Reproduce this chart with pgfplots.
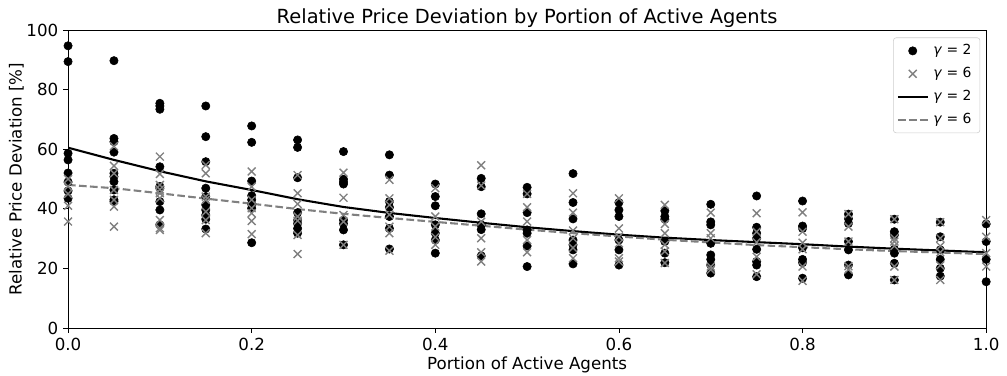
\documentclass[border=0pt]{standalone}
\usepackage{fontspec}
\setmainfont{DejaVu Sans}
\usepackage{pgfplots}
\pgfplotsset{compat=1.18}
\usepackage{pgfplotstable}

\pgfplotsset{
  lineleg/.style={legend image code/.code={\draw[##1] (0cm,0cm) -- (0.75cm,0cm);}},
  markleg/.style={legend image code/.code={\draw[mark repeat=2,mark phase=2,##1] plot coordinates {(0cm,0cm)(0.375cm,0cm)(0.75cm,0cm)};}},
}

\pgfplotstableread{
x y
0.00 94.7
0.00 89.4
0.00 58.6
0.00 56.4
0.00 52.0
0.00 49.0
0.00 46.0
0.00 43.5
0.05 89.7
0.05 63.6
0.05 62.5
0.05 59.0
0.05 51.9
0.05 50.8
0.05 49.1
0.05 46.3
0.05 43.0
0.05 42.4
0.10 75.4
0.10 74.5
0.10 73.4
0.10 54.1
0.10 47.5
0.10 46.9
0.10 42.4
0.10 39.6
0.10 34.6
0.15 74.5
0.15 64.2
0.15 55.8
0.15 46.9
0.15 44.1
0.15 41.3
0.15 39.6
0.15 37.9
0.15 36.5
0.15 33.2
0.20 67.8
0.20 62.3
0.20 49.3
0.20 44.4
0.20 43.0
0.20 41.5
0.20 40.2
0.20 28.6
0.25 63.1
0.25 60.6
0.25 50.4
0.25 38.7
0.25 36.2
0.25 35.0
0.25 33.4
0.25 31.8
0.30 59.2
0.30 49.9
0.30 49.0
0.30 48.3
0.30 36.2
0.30 35.0
0.30 32.9
0.30 27.9
0.35 58.1
0.35 51.3
0.35 42.4
0.35 40.5
0.35 37.4
0.35 33.4
0.35 26.5
0.40 48.3
0.40 44.1
0.40 41.0
0.40 34.6
0.40 31.8
0.40 29.5
0.40 25.1
0.45 50.2
0.45 47.4
0.45 38.3
0.45 34.6
0.45 33.0
0.45 24.2
0.50 47.2
0.50 45.0
0.50 38.7
0.50 32.9
0.50 31.8
0.50 27.5
0.50 20.6
0.55 51.8
0.55 42.1
0.55 36.6
0.55 29.5
0.55 27.9
0.55 26.2
0.55 21.5
0.60 42.1
0.60 39.6
0.60 37.4
0.60 29.5
0.60 26.2
0.60 21.1
0.65 39.3
0.65 37.4
0.65 36.5
0.65 29.0
0.65 25.1
0.65 21.9
0.70 41.5
0.70 35.6
0.70 34.6
0.70 28.4
0.70 24.5
0.70 23.0
0.70 21.1
0.70 18.4
0.75 44.3
0.75 33.8
0.75 31.8
0.75 30.1
0.75 26.4
0.75 22.3
0.75 21.1
0.75 17.2
0.80 42.6
0.80 34.2
0.80 33.4
0.80 26.9
0.80 23.0
0.80 21.9
0.80 16.7
0.85 38.2
0.85 36.7
0.85 35.1
0.85 29.0
0.85 26.2
0.85 21.1
0.85 17.8
0.90 36.5
0.90 32.3
0.90 31.2
0.90 26.4
0.90 25.1
0.90 21.7
0.90 16.1
0.95 35.5
0.95 30.6
0.95 26.2
0.95 23.0
0.95 20.0
0.95 17.4
1.00 34.9
1.00 29.0
1.00 23.0
1.00 15.5
}\gtwo

\pgfplotstableread{
x y
0.00 50.0
0.00 47.5
0.00 45.0
0.00 41.0
0.00 35.7
0.05 61.0
0.05 54.4
0.05 51.9
0.05 46.3
0.05 43.0
0.05 40.7
0.05 34.0
0.10 57.5
0.10 51.7
0.10 48.0
0.10 46.5
0.10 45.2
0.10 43.5
0.10 36.2
0.10 33.5
0.10 32.9
0.15 54.7
0.15 51.9
0.15 44.1
0.15 43.0
0.15 39.0
0.15 36.2
0.15 31.8
0.20 52.5
0.20 47.4
0.20 43.0
0.20 40.2
0.20 38.5
0.20 35.9
0.20 31.5
0.25 51.3
0.25 45.2
0.25 41.6
0.25 37.4
0.25 36.0
0.25 31.2
0.25 24.8
0.30 52.1
0.30 43.7
0.30 37.9
0.30 35.7
0.30 27.9
0.35 49.7
0.35 43.5
0.35 41.3
0.35 38.0
0.35 34.0
0.35 31.8
0.35 25.9
0.40 46.9
0.40 37.4
0.40 34.0
0.40 30.5
0.40 27.9
0.45 54.6
0.45 47.8
0.45 35.7
0.45 30.1
0.45 25.4
0.45 22.3
0.50 45.0
0.50 40.5
0.50 35.7
0.50 29.5
0.50 25.4
0.55 45.2
0.55 38.7
0.55 32.7
0.55 30.1
0.55 26.9
0.55 23.4
0.60 43.5
0.60 33.4
0.60 30.6
0.60 28.4
0.60 23.4
0.60 22.3
0.65 41.3
0.65 34.9
0.65 31.8
0.65 27.9
0.65 25.7
0.65 21.8
0.70 38.7
0.70 31.8
0.70 30.1
0.70 20.6
0.70 19.6
0.75 38.5
0.75 32.3
0.75 28.8
0.75 23.9
0.75 18.0
0.80 38.8
0.80 32.3
0.80 28.6
0.80 26.4
0.80 20.6
0.80 15.8
0.85 38.2
0.85 34.0
0.85 29.0
0.85 20.7
0.85 19.6
0.90 36.5
0.90 30.1
0.90 29.0
0.90 27.5
0.90 20.6
0.90 16.1
0.95 35.5
0.95 30.1
0.95 27.5
0.95 25.4
0.95 21.0
0.95 16.1
1.00 36.2
1.00 30.6
1.00 25.1
1.00 20.6
}\gsix

\pgfplotstableread{
x y
0.00 60.5
0.05 56.4
0.10 52.6
0.15 49.2
0.20 46.3
0.25 43.2
0.30 40.6
0.35 38.6
0.40 36.9
0.45 35.3
0.50 33.8
0.55 32.5
0.60 31.3
0.65 30.3
0.70 29.5
0.75 28.8
0.80 28.1
0.85 27.3
0.90 26.6
0.95 26.0
1.00 25.4
}\fittwo

\pgfplotstableread{
x y
0.00 48.0
0.05 46.9
0.10 45.2
0.15 43.4
0.20 41.7
0.25 39.9
0.30 38.3
0.35 36.9
0.40 35.6
0.45 34.3
0.50 33.0
0.55 31.8
0.60 30.7
0.65 29.6
0.70 28.7
0.75 27.8
0.80 27.1
0.85 26.4
0.90 25.8
0.95 25.3
1.00 24.8
}\fitsix

\definecolor{mgray}{HTML}{808080}

\begin{document}
\begin{tikzpicture}
\begin{axis}[
  name=ax,
  scale only axis,
  width=661pt, height=214.5pt,
  xmin=0, xmax=1, ymin=0, ymax=100,
  xtick={0,0.2,0.4,0.6,0.8,1},
  ytick={0,20,40,60,80,100},
  tick align=outside, tick pos=left,
  major tick length=3.5pt,
  every tick/.style={black, line width=0.6pt},
  axis line style={line width=0.6pt},
  /pgf/number format/assume math mode=true,
  xticklabel style={/pgf/number format/fixed, /pgf/number format/precision=1, /pgf/number format/fixed zerofill},
  tick label style={font=\fontsize{12}{14}\selectfont},
  label style={font=\fontsize{12}{14}\selectfont},
  xlabel style={yshift=2pt},
  ylabel style={yshift=-5pt},
  title style={font=\fontsize{14}{17}\selectfont, yshift=-8pt},
  title={Relative Price Deviation by Portion of Active Agents},
  xlabel={Portion of Active Agents},
  ylabel={Relative Price Deviation [\%]},
  legend style={at={(0.9935,0.975)}, anchor=north east, font=\fontsize{10}{12}\selectfont,
    draw=black!20, rounded corners=2pt, fill=white,
    inner xsep=2.5pt, inner ysep=3pt, row sep=3.6pt,
    nodes={inner xsep=3.5pt}},
  legend cell align=left,
]
\addplot[only marks, mark=*, mark size=3pt, black, markleg] table {\gtwo};
\addlegendentry{\textit{γ} = 2}
\addplot[only marks, mark=x, mark size=4pt, mgray, line width=1pt, markleg] table {\gsix};
\addlegendentry{\textit{γ} = 6}
\addplot[black, line width=1.5pt, no marks, lineleg] table {\fittwo};
\addlegendentry{\textit{γ} = 2}
\addplot[mgray, line width=1.5pt, no marks, dash pattern=on 5.5pt off 2.4pt, lineleg] table {\fitsix};
\addlegendentry{\textit{γ} = 6}
\end{axis}
\pgfresetboundingbox
\path ([shift={(-49pt,-34.6pt)}]ax.south west) rectangle ([shift={(15pt,21.6pt)}]ax.north east);
\end{tikzpicture}
\end{document}
